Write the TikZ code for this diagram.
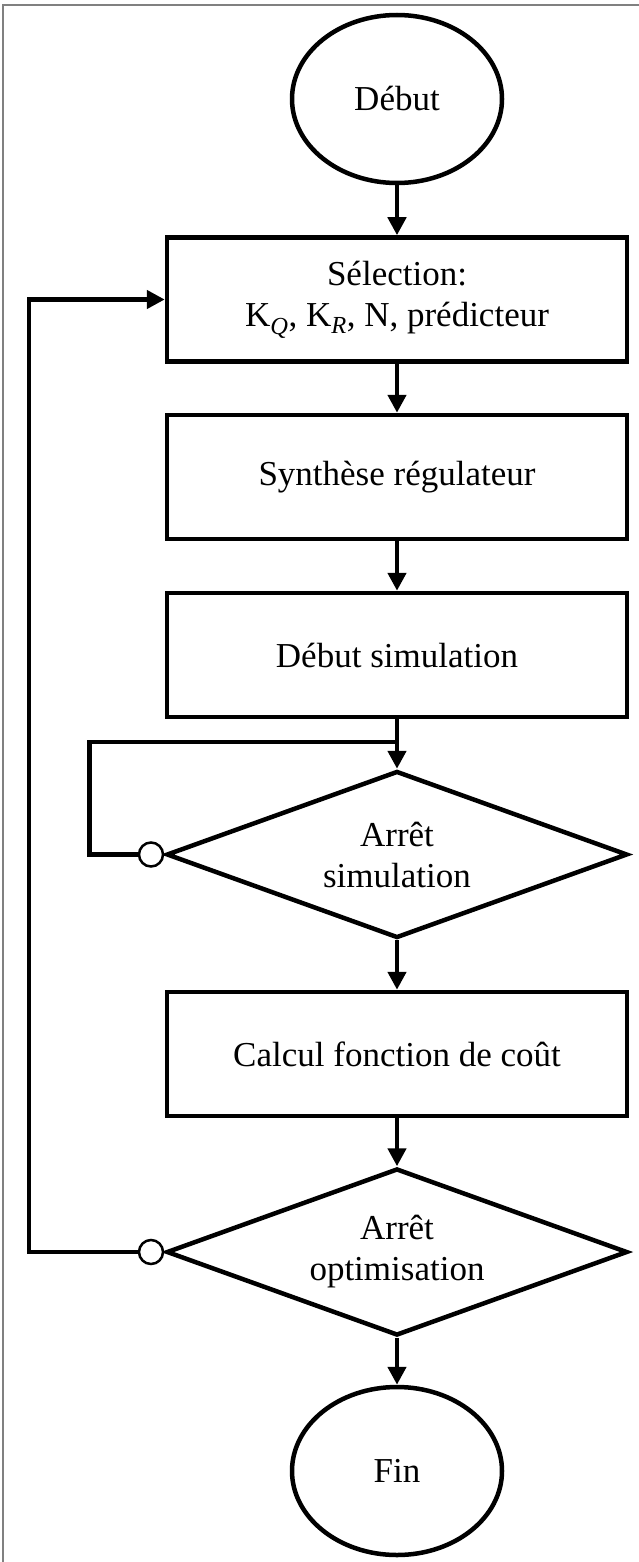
\documentclass[tikz,border=0pt]{standalone}
\usepackage{fontspec}
\setmainfont{Liberation Serif}
\usetikzlibrary{shapes.geometric,arrows.meta}
\begin{document}
\begin{tikzpicture}[x=1pt,y=-1pt,
  every node/.style={font=\fontsize{35}{41}\selectfont},
  lw/.style={line width=4.5pt},
  term/.style={ellipse,draw,lw,minimum width=210pt,minimum height=168pt,inner sep=0pt},
  proc/.style={rectangle,draw,lw,minimum width=460pt,minimum height=124pt,inner sep=0pt,align=center},
  dec/.style={diamond,draw,lw,minimum width=461pt,minimum height=167pt,inner sep=0pt,aspect=2.76,align=center},
  knob/.style={circle,draw,line width=2.5pt,fill=white,minimum size=24pt,inner sep=0pt},
  flow/.style={lw,-{Triangle[length=18pt,width=18pt]}},
  wire/.style={lw}]
\useasboundingbox (0,0) rectangle (638,1562);
\draw[gray, line width=1.2pt] (3,1580) -- (3,5) -- (660,5);
\node[term] (start) at (397,99) {Début};
\node[proc] (b1) at (397,299.5) {Sélection:\\K\textsubscript{\textit{Q}}, K\textsubscript{\textit{R}}, N, prédicteur};
\node[proc] (b2) at (397,477) {Synthèse régulateur};
\node[proc] (b3) at (397,655) {Début simulation};
\node[dec] (d1) at (397,854.5) {Arrêt\\simulation};
\node[proc] (b4) at (397,1054) {Calcul fonction de coût};
\node[dec] (d2) at (397,1252) {Arrêt\\optimisation};
\node[term] (fin) at (397,1471) {Fin};
\node[knob,anchor=east] (c1) at (d1.west) {};
\node[knob,anchor=east] (c2) at (d2.west) {};
\coordinate (j1) at (397,742);
\coordinate (l1) at (89.5,854.5);
\coordinate (l2) at (29,1252);
\draw[flow] (start.south) -- (b1.north);
\draw[flow] (b1.south) -- (b2.north);
\draw[flow] (b2.south) -- (b3.north);
\draw[flow] (b3.south) -- (d1.north);
\draw[flow] (d1.south) -- (b4.north);
\draw[flow] (b4.south) -- (d2.north);
\draw[flow] (d2.south) -- (fin.north);
\draw[wire] (c1.west) -- (l1) |- (j1);
\draw[flow] (c2.west) -- (l2) |- (b1.west);
\end{tikzpicture}
\end{document}
